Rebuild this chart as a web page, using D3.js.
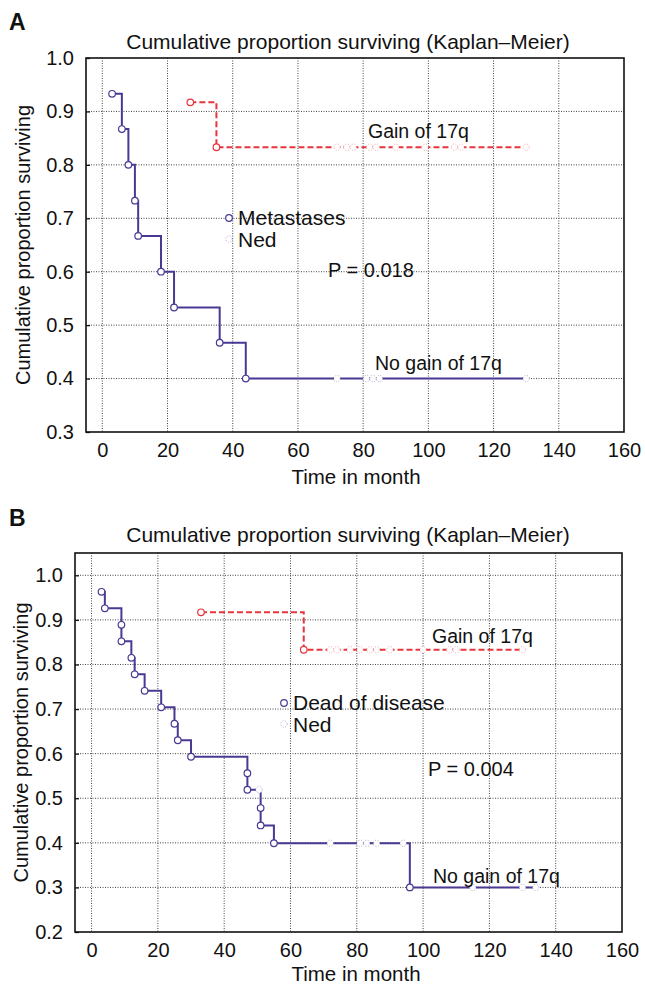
<!DOCTYPE html>
<html>
<head>
<meta charset="utf-8">
<script src="https://cdn.jsdelivr.net/npm/d3@7"></script>
<style>
  body { margin: 0; background: #fff; }
  text { font-family: "Liberation Sans", Arial, sans-serif; fill: #111; }
</style>
</head>
<body>
<div id="chart"></div>
<script>
// ---- data ----
const monthTicks = [0, 20, 40, 60, 80, 100, 120, 140, 160];
const aSurvTicks = [0.3, 0.4, 0.5, 0.6, 0.7, 0.8, 0.9, 1.0];
const bSurvTicks = [0.2, 0.3, 0.4, 0.5, 0.6, 0.7, 0.8, 0.9, 1.0];

// panel A: metastases
const aNoGainTime = [3, 6, 8, 10, 11, 18, 22, 36, 44];
const aNoGainSurv = [0.933, 0.867, 0.800, 0.733, 0.667, 0.600, 0.533, 0.467, 0.400];
const aNoGainCens = [72, 81, 83, 85, 130];
const aGainTime = [27, 35];
const aGainSurv = [0.917, 0.833];
const aGainCens = [72, 75, 77, 82, 84, 90, 99, 108, 110, 130];

// panel B: dead of disease
const bNoGainTime = [3, 4, 9, 9, 12, 13, 16, 21, 25, 26, 30, 47, 47, 51, 51, 55, 96];
const bNoGainSurv = [0.963, 0.926, 0.889, 0.852, 0.815, 0.778, 0.741, 0.704, 0.667, 0.630,
                     0.593, 0.556, 0.519, 0.478, 0.439, 0.399, 0.300];
const bNoGainCens = [50.5, 72, 81, 83, 86, 94, 115, 130, 134];
const bGainTime = [33, 64];
const bGainSurv = [0.917, 0.833];
const bGainCens = [72, 74, 78, 81, 84, 86, 90, 100, 108, 110, 130];

const blue = "#4a3893";
const red = "#e8343c";

const svg = d3.select("#chart").append("svg")
    .attr("width", 645)
    .attr("height", 988);

function survAt(times, surv, t) {
    let s = surv[0];
    for (let i = 0; i < times.length; i++) {
        if (times[i] <= t) s = surv[i];
    }
    return s;
}

function drawCurve(g, x, y, times, surv, cens, color, dashed) {
    const end = d3.max(cens.concat(times));
    const pts = [[times[0], surv[0]]];
    for (let i = 1; i < times.length; i++) {
        pts.push([times[i], surv[i - 1]]);
        pts.push([times[i], surv[i]]);
    }
    pts.push([end, surv[surv.length - 1]]);

    g.append("path")
        .attr("d", d3.line().x(d => x(d[0])).y(d => y(d[1]))(pts))
        .attr("fill", "none")
        .attr("stroke", color)
        .attr("stroke-width", 2)
        .attr("stroke-dasharray", dashed ? "6,3" : null);

    // censored (Ned) marks
    g.selectAll(null)
        .data(cens)
        .enter()
        .append("circle")
        .attr("cx", d => x(d))
        .attr("cy", d => y(survAt(times, surv, d)))
        .attr("r", 3.2)
        .attr("fill", "#fff")
        .attr("stroke", color)
        .attr("stroke-opacity", 0.45)
        .attr("stroke-width", 0.9)
        .attr("stroke-dasharray", "1,1.6");

    // events
    g.selectAll(null)
        .data(times)
        .enter()
        .append("circle")
        .attr("cx", d => x(d))
        .attr("cy", (d, i) => y(surv[i]))
        .attr("r", 3.3)
        .attr("fill", "#fff")
        .attr("stroke", color)
        .attr("stroke-width", 1.2);
}

function drawPanel(p) {
    const x = d3.scaleLinear().domain(p.xDomain).range([p.left, p.right]);
    const y = d3.scaleLinear().domain(p.yDomain).range([p.bottom, p.top]);
    const g = svg.append("g");

    // grid
    g.selectAll(null)
        .data(monthTicks.filter(d => x(d) < p.right - 2))
        .enter()
        .append("line")
        .attr("x1", d => x(d)).attr("x2", d => x(d))
        .attr("y1", p.top).attr("y2", p.bottom)
        .attr("stroke", "#444")
        .attr("stroke-width", 1)
        .attr("stroke-dasharray", "1,1.5");
    g.selectAll(null)
        .data(p.yTicks.filter(d => y(d) > p.top + 2 && y(d) < p.bottom - 2))
        .enter()
        .append("line")
        .attr("x1", p.left).attr("x2", p.right)
        .attr("y1", d => y(d)).attr("y2", d => y(d))
        .attr("stroke", "#444")
        .attr("stroke-width", 1)
        .attr("stroke-dasharray", "1,1.5");

    // axes
    const xAxis = g.append("g")
        .attr("transform", `translate(0,${p.bottom})`)
        .call(d3.axisBottom(x).tickValues(monthTicks).tickSize(0).tickPadding(11)
            .tickFormat(d3.format("d")));
    const yAxis = g.append("g")
        .attr("transform", `translate(${p.left},0)`)
        .call(d3.axisLeft(y).tickValues(p.yTicks).tickSizeInner(-4).tickSizeOuter(0).tickPadding(12)
            .tickFormat(d3.format(".1f")));
    [xAxis, yAxis].forEach(a => {
        a.select(".domain").remove();
        a.selectAll("text").style("font-size", "20px").attr("fill", "#111");
        a.selectAll("line").attr("stroke", "#111").attr("stroke-width", 1.3);
    });

    // frame
    g.append("rect")
        .attr("x", p.left).attr("y", p.top)
        .attr("width", p.right - p.left).attr("height", p.bottom - p.top)
        .attr("fill", "none")
        .attr("stroke", "#111")
        .attr("stroke-width", 1.6);

    drawCurve(g, x, y, p.noGainTime, p.noGainSurv, p.noGainCens, blue, false);
    drawCurve(g, x, y, p.gainTime, p.gainSurv, p.gainCens, red, true);

    // titles and labels
    g.append("text").attr("x", 9).attr("y", p.letterY)
        .style("font-size", "23px").style("font-weight", "bold").text(p.letter);
    g.append("text").attr("x", 348).attr("y", p.titleY)
        .attr("text-anchor", "middle").style("font-size", "21px")
        .text("Cumulative proportion surviving (Kaplan\u2013Meier)");
    g.append("text").attr("x", 356).attr("y", p.xLabelY)
        .attr("text-anchor", "middle").style("font-size", "20.5px")
        .text("Time in month");
    g.append("text")
        .attr("transform", `translate(${p.yLabelX},${(p.top + p.bottom) / 2}) rotate(-90)`)
        .attr("text-anchor", "middle").style("font-size", "20px")
        .text("Cumulative proportion surviving");

    // legend
    g.append("circle").attr("cx", p.legX).attr("cy", p.legY).attr("r", 3.3)
        .attr("fill", "#fff").attr("stroke", blue).attr("stroke-width", 1.2);
    g.append("text").attr("x", p.legX + 9).attr("y", p.legY + 7)
        .style("font-size", "21px").text(p.eventName);
    g.append("circle").attr("cx", p.legX).attr("cy", p.legY + 21).attr("r", 3.2)
        .attr("fill", "#fff").attr("stroke", blue).attr("stroke-opacity", 0.45)
        .attr("stroke-width", 0.9).attr("stroke-dasharray", "1,1.6");
    g.append("text").attr("x", p.legX + 9).attr("y", p.legY + 29)
        .style("font-size", "21px").text("Ned");

    g.append("text").attr("x", p.pX).attr("y", p.pY)
        .style("font-size", "20px").text(p.pText);
    g.append("text").attr("x", p.gainX).attr("y", p.gainY)
        .style("font-size", "19.5px").text("Gain of 17q");
    g.append("text").attr("x", p.noGainX).attr("y", p.noGainY)
        .style("font-size", "19.5px").text("No gain of 17q");
}

drawPanel({
    letter: "A", letterY: 30, titleY: 49, xLabelY: 484, yLabelX: 30,
    left: 86, right: 624, top: 58, bottom: 432,
    xDomain: [-5, 160], yDomain: [0.3, 1.0], yTicks: aSurvTicks,
    noGainTime: aNoGainTime, noGainSurv: aNoGainSurv, noGainCens: aNoGainCens,
    gainTime: aGainTime, gainSurv: aGainSurv, gainCens: aGainCens,
    legX: 229, legY: 218, eventName: "Metastases",
    pX: 328, pY: 277, pText: "P = 0.018",
    gainX: 368, gainY: 138, noGainX: 375, noGainY: 370
});

drawPanel({
    letter: "B", letterY: 526, titleY: 542, xLabelY: 981, yLabelX: 28,
    left: 75, right: 622, top: 553, bottom: 932,
    xDomain: [-5, 160], yDomain: [0.2, 1.05], yTicks: bSurvTicks,
    noGainTime: bNoGainTime, noGainSurv: bNoGainSurv, noGainCens: bNoGainCens,
    gainTime: bGainTime, gainSurv: bGainSurv, gainCens: bGainCens,
    legX: 284, legY: 703, eventName: "Dead of disease",
    pX: 428, pY: 776, pText: "P = 0.004",
    gainX: 432, gainY: 643, noGainX: 433, noGainY: 883
});
</script>
</body>
</html>
